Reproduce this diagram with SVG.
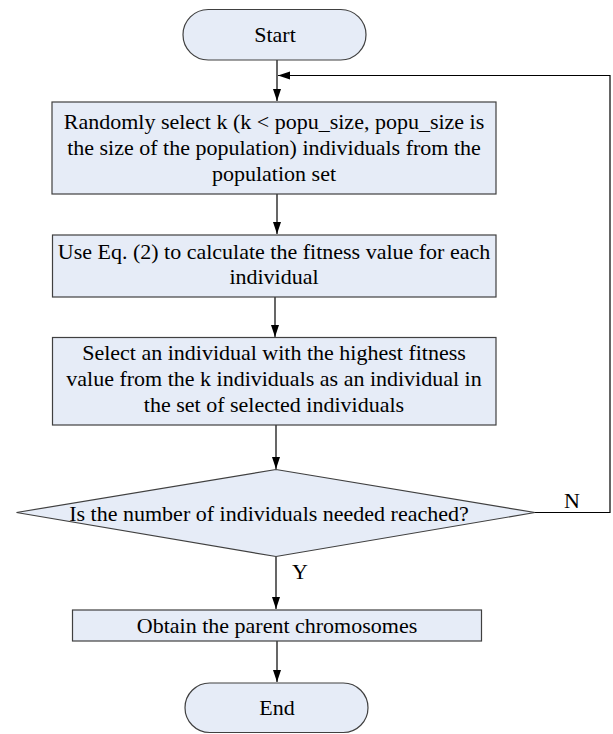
<svg xmlns="http://www.w3.org/2000/svg" width="613" height="734" viewBox="0 0 613 734" font-family="'Liberation Serif', 'Times New Roman', Times, serif">
<style>
.box{fill:#e6ecf7;stroke:#404040;stroke-width:1.2}
.t{font-size:22px;fill:#000;text-anchor:middle}
.lbl{font-size:22px;fill:#000}
.c{fill:none;stroke:#000;stroke-width:1.2}
</style>
<defs>
<marker id="ah" markerUnits="userSpaceOnUse" markerWidth="13" markerHeight="9" refX="12" refY="4" orient="auto">
<path d="M0,0 L12,4 L0,8 z" fill="#000"/>
</marker>
</defs>
<rect width="613" height="734" fill="#fff"/>
<g id="connectors">
<line class="c" x1="277" y1="60" x2="277" y2="101" marker-end="url(#ah)"/>
<polyline class="c" points="535,512.5 610,512.5 610,75.5 278,75.5" marker-end="url(#ah)"/>
<line class="c" x1="277" y1="194" x2="277" y2="234" marker-end="url(#ah)"/>
<line class="c" x1="275" y1="297" x2="275" y2="337" marker-end="url(#ah)"/>
<line class="c" x1="276" y1="425" x2="276" y2="469" marker-end="url(#ah)"/>
<line class="c" x1="276" y1="557" x2="276" y2="609" marker-end="url(#ah)"/>
<line class="c" x1="277" y1="641" x2="277" y2="682" marker-end="url(#ah)"/>
<text class="lbl" x="564" y="508" font-family="Liberation Serif, serif">N</text>
<text class="lbl" x="292" y="579" font-family="Liberation Serif, serif">Y</text>
</g>
<g id="start">
<rect class="box" x="183" y="9.5" width="183" height="50.5" rx="25.25"/>
<text class="t" x="275" y="42">Start</text>
</g>
<g id="select-random">
<rect class="box" x="52" y="102" width="444" height="92"/>
<text class="t" x="274" y="129">Randomly select k (k &lt; popu_size, popu_size is</text>
<text class="t" x="274" y="155">the size of the population) individuals from the</text>
<text class="t" x="274" y="181">population set</text>
</g>
<g id="fitness">
<rect class="box" x="52.5" y="235" width="443.5" height="62"/>
<text class="t" x="274" y="259">Use Eq. (2) to calculate the fitness value for each</text>
<text class="t" x="274" y="284">individual</text>
</g>
<g id="select-best">
<rect class="box" x="52.5" y="337.5" width="443.5" height="87.5"/>
<text class="t" x="274" y="360">Select an individual with the highest fitness</text>
<text class="t" x="274" y="386">value from the k individuals as an individual in</text>
<text class="t" x="274" y="412">the set of selected individuals</text>
</g>
<g id="decision">
<polygon class="box" points="16.5,512.5 276,469.5 535,512.5 276,556.5"/>
<text class="t" x="269" y="521">Is the number of individuals needed reached?</text>
</g>
<g id="obtain">
<rect class="box" x="72.5" y="610" width="409" height="31"/>
<text class="t" x="277" y="633">Obtain the parent chromosomes</text>
</g>
<g id="end">
<rect class="box" x="185" y="683" width="183" height="49.5" rx="24.75"/>
<text class="t" x="277" y="715">End</text>
</g>
</svg>
